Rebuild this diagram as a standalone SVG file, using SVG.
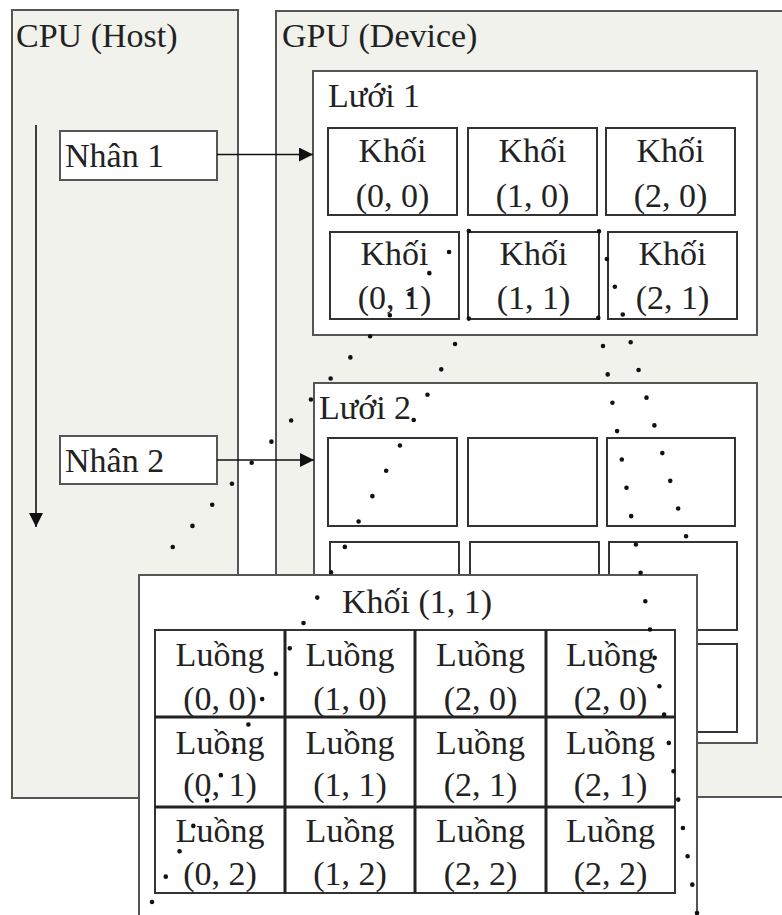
<svg xmlns="http://www.w3.org/2000/svg" width="782" height="915" viewBox="0 0 782 915">
<style>
  .panel { fill: #f1f2ec; stroke: #555; stroke-width: 2; }
  .frame { fill: #ffffff; stroke: #555; stroke-width: 2; }
  .blk { fill: #ffffff; stroke: #333; stroke-width: 2; }
  .t { font-family: "Liberation Serif", "Times New Roman", serif; font-size: 34px; fill: #222; }
  .c { text-anchor: middle; }
  .arrow { stroke: #111; stroke-width: 1.6; fill: none; }
  .dots { stroke: #111; stroke-width: 4.6; stroke-linecap: round; fill: none; stroke-dasharray: 0 1; }
  .inner { stroke: #222; stroke-width: 3; }
</style>
<defs>
  <marker id="ah" markerUnits="userSpaceOnUse" markerWidth="15" markerHeight="14" refX="14" refY="7" orient="auto">
    <path d="M0,0 L14,7 L0,14 z" fill="#111"/>
  </marker>
</defs>
<rect width="782" height="915" fill="#ffffff"/>

<g id="cpu">
  <rect class="panel" x="12" y="10" width="226" height="788"/>
  <text class="t" x="16" y="47">CPU (Host)</text>
</g>
<g id="gpu">
  <rect class="panel" x="276" y="11" width="520" height="786"/>
  <text class="t" x="282" y="47">GPU (Device)</text>
</g>

<g id="kernel1">
  <rect class="frame" x="60" y="131" width="157" height="49"/>
  <text class="t" x="65" y="167">Nhân 1</text>
</g>
<g id="kernel2">
  <rect class="frame" x="60" y="436" width="157" height="48"/>
  <text class="t" x="65" y="472">Nhân 2</text>
</g>

<g id="grid1">
  <rect class="frame" x="313" y="71" width="444" height="264"/>
  <text class="t" x="328" y="107">Lưới 1</text>
  <rect class="blk" x="328" y="128" width="129" height="87"/>
  <rect class="blk" x="468" y="128" width="129" height="87"/>
  <rect class="blk" x="606" y="128" width="129" height="87"/>
  <rect class="blk" x="330" y="232" width="129" height="87"/>
  <rect class="blk" x="468" y="232" width="131" height="87"/>
  <rect class="blk" x="608" y="232" width="129" height="87"/>
  <text class="t c" x="392.5" y="162">Khối</text><text class="t c" x="392.5" y="207">(0, 0)</text>
  <text class="t c" x="532.5" y="162">Khối</text><text class="t c" x="532.5" y="207">(1, 0)</text>
  <text class="t c" x="670.5" y="162">Khối</text><text class="t c" x="670.5" y="207">(2, 0)</text>
  <text class="t c" x="394.5" y="265">Khối</text><text class="t c" x="394.5" y="309">(0, 1)</text>
  <text class="t c" x="533.5" y="265">Khối</text><text class="t c" x="533.5" y="309">(1, 1)</text>
  <text class="t c" x="672.5" y="265">Khối</text><text class="t c" x="672.5" y="309">(2, 1)</text>
</g>

<g id="grid2">
  <rect class="frame" x="314" y="383" width="443" height="360"/>
  <text class="t" x="319" y="419">Lưới 2</text>
  <rect class="blk" x="328" y="438" width="129" height="88"/>
  <rect class="blk" x="468" y="438" width="129" height="88"/>
  <rect class="blk" x="607" y="438" width="128" height="88"/>
  <rect class="blk" x="330" y="542" width="129" height="88"/>
  <rect class="blk" x="470" y="542" width="129" height="88"/>
  <rect class="blk" x="609" y="542" width="128" height="88"/>
  <rect class="blk" x="330" y="644" width="129" height="88"/>
  <rect class="blk" x="470" y="644" width="129" height="88"/>
  <rect class="blk" x="609" y="644" width="128" height="88"/>
</g>

<g id="arrows">
  <line class="arrow" x1="36" y1="125" x2="36" y2="527" marker-end="url(#ah)"/>
  <line class="arrow" x1="217" y1="154.5" x2="313" y2="154.5" marker-end="url(#ah)"/>
  <line class="arrow" x1="217" y1="460" x2="314" y2="460" marker-end="url(#ah)"/>
</g>

<g id="block11">
  <rect class="frame" x="139" y="575" width="558" height="360"/>
  <text class="t c" x="417" y="613">Khối (1, 1)</text>
  <rect x="155" y="630" width="520" height="263" fill="#fff" stroke="#333" stroke-width="2"/>
  <line class="inner" x1="285" y1="630" x2="285" y2="893"/>
  <line class="inner" x1="415" y1="630" x2="415" y2="893"/>
  <line class="inner" x1="546" y1="630" x2="546" y2="893"/>
  <line class="inner" x1="155" y1="717" x2="675" y2="717"/>
  <line class="inner" x1="155" y1="807" x2="675" y2="807"/>
  <text class="t c" x="220" y="666">Luồng</text><text class="t c" x="220" y="710">(0, 0)</text>
  <text class="t c" x="350" y="666">Luồng</text><text class="t c" x="350" y="710">(1, 0)</text>
  <text class="t c" x="480.5" y="666">Luồng</text><text class="t c" x="480.5" y="710">(2, 0)</text>
  <text class="t c" x="610.5" y="666">Luồng</text><text class="t c" x="610.5" y="710">(2, 0)</text>
  <text class="t c" x="220" y="754">Luồng</text><text class="t c" x="220" y="796">(0, 1)</text>
  <text class="t c" x="350" y="754">Luồng</text><text class="t c" x="350" y="796">(1, 1)</text>
  <text class="t c" x="480.5" y="754">Luồng</text><text class="t c" x="480.5" y="796">(2, 1)</text>
  <text class="t c" x="610.5" y="754">Luồng</text><text class="t c" x="610.5" y="796">(2, 1)</text>
  <text class="t c" x="220" y="842">Luồng</text><text class="t c" x="220" y="885">(0, 2)</text>
  <text class="t c" x="350" y="842">Luồng</text><text class="t c" x="350" y="885">(1, 2)</text>
  <text class="t c" x="480.5" y="842">Luồng</text><text class="t c" x="480.5" y="885">(2, 2)</text>
  <text class="t c" x="610.5" y="842">Luồng</text><text class="t c" x="610.5" y="885">(2, 2)</text>
</g>

<g id="zoom-lines">
  <path class="dots" d="M468.8,231 L153,568" pathLength="16"/>
  <path class="dots" d="M468.8,318.6 L152,902" pathLength="23"/>
  <path class="dots" d="M599,231.3 L694,564" pathLength="12"/>
  <path class="dots" d="M598.3,317.7 L697,913" pathLength="21"/>
</g>
</svg>
